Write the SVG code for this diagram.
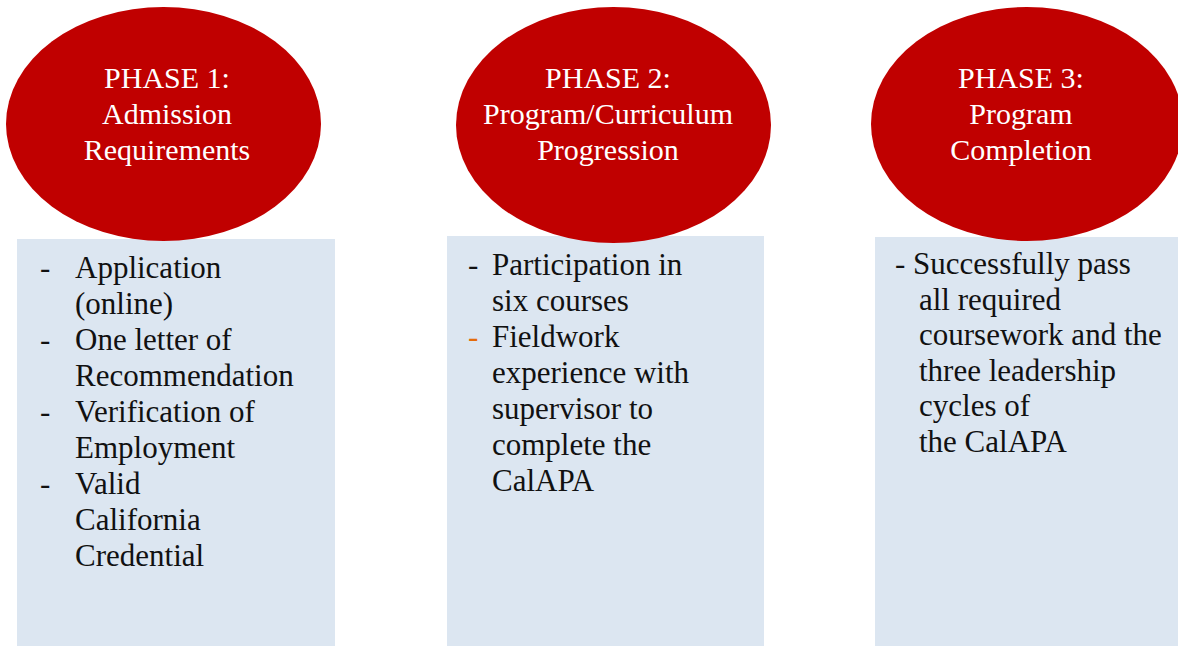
<svg xmlns="http://www.w3.org/2000/svg" width="1178" height="646" viewBox="0 0 1178 646">
<style>
.box{fill:#DCE6F1;}
.oval{fill:#C00000;}
.head{font-family:"Liberation Serif","DejaVu Serif",serif;font-size:30px;fill:#FFFFFF;text-anchor:middle;}
.body{font-family:"Liberation Serif","DejaVu Serif",serif;font-size:31px;fill:#111111;}
.orange{fill:#E46C0A;}
</style>
<rect width="1178" height="646" fill="#FFFFFF"/>
<g id="phase1">
<rect class="box" x="17" y="239" width="318" height="407"/>
<ellipse class="oval" cx="163.5" cy="124" rx="157.5" ry="117"/>
<text class="head" x="167" y="88">PHASE 1:</text>
<text class="head" x="167" y="124">Admission</text>
<text class="head" x="167" y="160">Requirements</text>
<text class="body" x="40" y="278">-</text>
<text class="body" x="75" y="278">Application</text>
<text class="body" x="75" y="314">(online)</text>
<text class="body" x="40" y="350">-</text>
<text class="body" x="75" y="350">One letter of</text>
<text class="body" x="75" y="386">Recommendation</text>
<text class="body" x="40" y="422">-</text>
<text class="body" x="75" y="422">Verification of</text>
<text class="body" x="75" y="458">Employment</text>
<text class="body" x="40" y="494">-</text>
<text class="body" x="75" y="494">Valid</text>
<text class="body" x="75" y="530">California</text>
<text class="body" x="75" y="566">Credential</text>
</g>
<g id="phase2">
<rect class="box" x="447" y="236" width="317" height="410"/>
<ellipse class="oval" cx="613.5" cy="125" rx="157.5" ry="118"/>
<text class="head" x="608" y="88">PHASE 2:</text>
<text class="head" x="608" y="124">Program/Curriculum</text>
<text class="head" x="608" y="160">Progression</text>
<text class="body" x="468" y="275">-</text>
<text class="body" x="492" y="275">Participation in</text>
<text class="body" x="492" y="311">six courses</text>
<text class="body orange" x="468" y="347">-</text>
<text class="body" x="492" y="347">Fieldwork</text>
<text class="body" x="492" y="383">experience with</text>
<text class="body" x="492" y="419">supervisor to</text>
<text class="body" x="492" y="455">complete the</text>
<text class="body" x="492" y="491">CalAPA</text>
</g>
<g id="phase3">
<rect class="box" x="875" y="237" width="303" height="409"/>
<ellipse class="oval" cx="1027" cy="124" rx="156" ry="117"/>
<text class="head" x="1021" y="88">PHASE 3:</text>
<text class="head" x="1021" y="124">Program</text>
<text class="head" x="1021" y="160">Completion</text>
<text class="body" x="895" y="274">- Successfully pass</text>
<text class="body" x="919" y="310">all required</text>
<text class="body" x="919" y="345">coursework and the</text>
<text class="body" x="919" y="381">three leadership</text>
<text class="body" x="919" y="416">cycles of</text>
<text class="body" x="919" y="452">the CalAPA</text>
</g>
<g id="connectors"/>
</svg>
